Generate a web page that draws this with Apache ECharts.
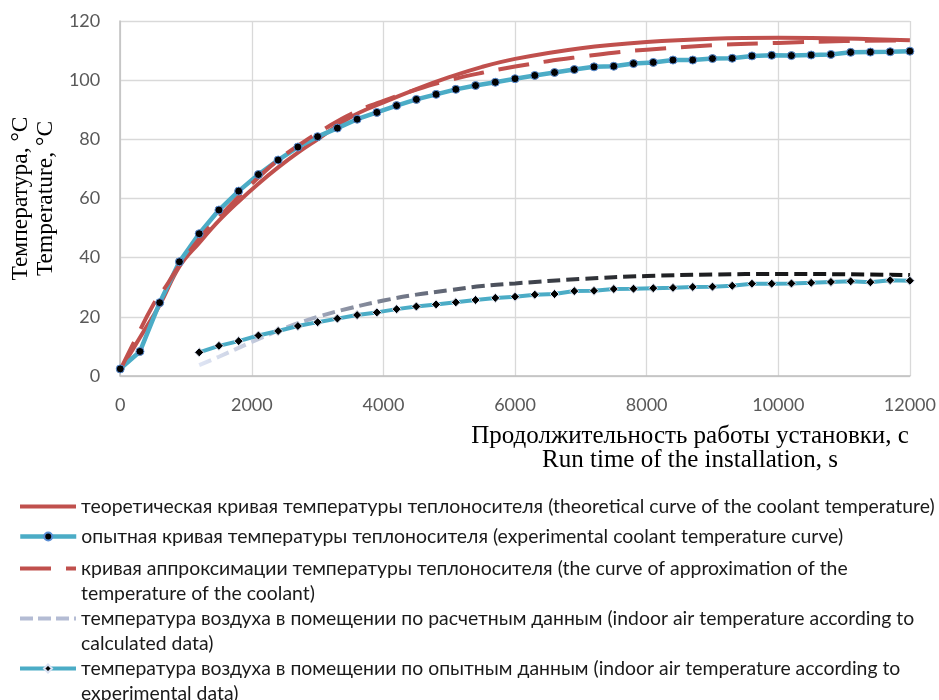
<!DOCTYPE html>
<html>
<head>
<meta charset="utf-8">
<script src="https://cdn.jsdelivr.net/npm/echarts@6/dist/echarts.min.js"></script>
<style>html,body{margin:0;padding:0;background:#fff}#c{width:939px;height:700px}</style>
</head>
<body>
<div id="c"></div>
<script>
// ---- data ----
const timeExp = [0,300,600,900,1200,1500,1800,2100,2400,2700,3000,3300,3600,3900,4200,4500,4800,5100,5400,5700,6000,6300,6600,6900,7200,7500,7800,8100,8400,8700,9000,9300,9600,9900,10200,10500,10800,11100,11400,11700,12000];
const coolantExp = [2.4,8.3,24.8,38.6,48.1,56.1,62.5,68.1,73.0,77.4,80.9,83.8,86.8,89.1,91.4,93.5,95.2,96.9,98.2,99.3,100.5,101.6,102.6,103.6,104.5,104.7,105.6,106.0,106.8,106.8,107.3,107.4,108.2,108.4,108.3,108.5,108.7,109.4,109.5,109.6,109.8];

const timeAirExp = [1200,1500,1800,2100,2400,2700,3000,3300,3600,3900,4200,4500,4800,5100,5400,5700,6000,6300,6600,6900,7200,7500,7800,8100,8400,8700,9000,9300,9600,9900,10200,10500,10800,11100,11400,11700,12000];
const airExp = [8.0,10.2,11.8,13.7,15.2,16.9,18.2,19.4,20.6,21.5,22.6,23.5,24.2,24.9,25.7,26.4,26.8,27.5,27.7,28.7,28.8,29.4,29.5,29.7,29.8,30.1,30.2,30.5,31.2,31.2,31.3,31.5,31.8,32.0,31.7,32.4,32.2];

const timeTheory = [0,300,600,900,1200,1500,1800,2100,2400,2700,3000,3500,4000,4500,5000,5500,6000,7000,8000,9000,10000,11000,12000];
const coolantTheory = [2,13,24,37,45,52.5,59,65,70.5,75.5,80,87.5,92.5,97,101,104.5,107.2,110.8,112.9,114,114.3,114.1,113.5];

const timeApprox = [0,200,500,700,900,1300,1600,2000,2400,2800,3100,3500,4000,4500,5000,5500,6000,6500,7000,7500,8000,9000,10000,11000,12000];
const coolantApprox = [2,11,24,30.5,37.5,49,56,65,73,79.3,83.5,88.5,93,96.8,100,102.5,104.6,106.4,107.9,109.3,110.3,111.8,112.6,113.2,113.4];

const timeAirCalc = [1200,1500,2000,2500,3000,3500,4000,4500,5000,5500,6000,7000,8000,9000,10000,11000,12000];
const airCalc = [3.7,6.5,11.5,16.2,20.0,23.0,25.5,27.5,29.0,30.4,31.3,32.8,33.8,34.3,34.5,34.4,34.1];

const xTicks = {min:0, max:12000, interval:2000};
const yTicks = {min:0, max:120, interval:20};

const names = [
  'теоретическая кривая температуры теплоносителя (theoretical curve of the coolant temperature)',
  'опытная кривая температуры теплоносителя (experimental coolant temperature curve)',
  'кривая аппроксимации температуры теплоносителя (the curve of approximation of the\ntemperature of the coolant)',
  'температура воздуха в помещении по расчетным данным (indoor air temperature according to\ncalculated data)',
  'температура воздуха в помещении по опытным данным (indoor air temperature according to\nexperimental data)'
];
const xTitle = 'Продолжительность работы установки, с\nRun time of the installation, s';
const yTitle = 'Температура, °C\nTemperature, °C';

const zip = (a,b) => a.map((v,i)=>[v,b[i]]);

const chart = echarts.init(document.getElementById('c'), null, {renderer:'canvas'});
const legendFont = {fontFamily:'Lato', fontSize:19.4, lineHeight:25, color:'#1a1a1a'};
const legendTops = [494, 524, 531, 581, 631];
const legendIconStyle = [
  {lineStyle:{width:4, color:'#C0504D'}, itemStyle:{opacity:0}},
  {lineStyle:{width:4.5, color:'#4BACC6'}},
  {lineStyle:{width:4, color:'#C0504D', type:[31,15]}, itemStyle:{opacity:0}},
  {lineStyle:{width:4, color:'#B4BCD4', type:[13,5]}, itemStyle:{opacity:0}},
  {lineStyle:{width:4, color:'#4BACC6'}}
];
const legends = names.map((n,i)=>({
  data:[Object.assign({name:n}, legendIconStyle[i])],
  formatter: (nm) => nm.indexOf('\n')>=0 ? '\n'+nm : nm,
  orient:'vertical', left:18, top:legendTops[i], padding:0,
  itemWidth:56, itemHeight:10, itemGap:0,
  selectedMode:false,
  textStyle: legendFont
}));

chart.setOption({
  animation:false,
  backgroundColor:'#fff',
  grid:{left:120, right:28, top:21, bottom:324, containLabel:false},
  legend: legends,
  xAxis:{
    type:'value', min:xTicks.min, max:xTicks.max, interval:xTicks.interval,
    axisLine:{show:true, lineStyle:{color:'#BFBFBF', width:1.5}},
    axisTick:{show:false},
    axisLabel:{color:'#595959', fontFamily:'Lato', fontSize:18, margin:20, formatter:(v)=>String(v)},
    splitLine:{show:true, lineStyle:{color:'#D9D9D9', width:1.3}}
  },
  yAxis:{
    type:'value', min:yTicks.min, max:yTicks.max, interval:yTicks.interval,
    name:yTitle, nameLocation:'middle', nameGap:61, nameRotate:90,
    nameTextStyle:{fontFamily:'Liberation Serif', fontSize:23.5, lineHeight:25, color:'#000'},
    axisLine:{show:true, lineStyle:{color:'#BFBFBF', width:1.5}},
    axisTick:{show:false},
    axisLabel:{color:'#595959', fontFamily:'Lato', fontSize:18, margin:20, formatter:(v)=>String(v)},
    splitLine:{show:true, lineStyle:{color:'#D9D9D9', width:1.3}}
  },
  graphic:[{
    type:'text', x:690, y:448,
    style:{text:xTitle, fontFamily:'Liberation Serif', fontSize:25, lineHeight:24, fill:'#000', align:'center', verticalAlign:'middle'}
  }],
  series:[
    {name:names[0], type:'line', data:zip(timeTheory, coolantTheory), smooth:0.4, symbol:'none',
     lineStyle:{color:'#C0504D', width:4}, itemStyle:{color:'#C0504D'}},
    {name:names[1], type:'line', data:zip(timeExp, coolantExp), smooth:false, symbol:'circle', symbolSize:8,
     lineStyle:{color:'#4BACC6', width:4.5}, itemStyle:{color:'#000', borderColor:'#5B8FD5', borderWidth:1}},
    {name:names[2], type:'line', data:zip(timeApprox, coolantApprox), smooth:0.4, symbol:'none',
     lineStyle:{color:'#C0504D', width:4, type:[31,15]}, itemStyle:{color:'#C0504D'}},
    {name:names[3], type:'line', data:zip(timeAirCalc, airCalc), smooth:0.4, symbol:'none',
     lineStyle:{width:4, type:[13,6], color:{type:'linear', x:0, y:0, x2:1, y2:0, colorStops:[
       {offset:0, color:'#E0E6F5'},{offset:0.15, color:'#A9B1C6'},{offset:0.21, color:'#8C92A3'},
       {offset:0.31, color:'#6B7181'},{offset:0.44, color:'#454A54'},{offset:0.63, color:'#222326'},{offset:1, color:'#101010'}]}},
     itemStyle:{color:'#B4BCD4'}},
    {name:names[4], type:'line', data:zip(timeAirExp, airExp), smooth:false, symbol:'diamond', symbolSize:9,
     lineStyle:{color:'#4BACC6', width:4}, itemStyle:{color:'#000', borderColor:'#D9E1F2', borderWidth:1}}
  ]
});
</script>
</body>
</html>
